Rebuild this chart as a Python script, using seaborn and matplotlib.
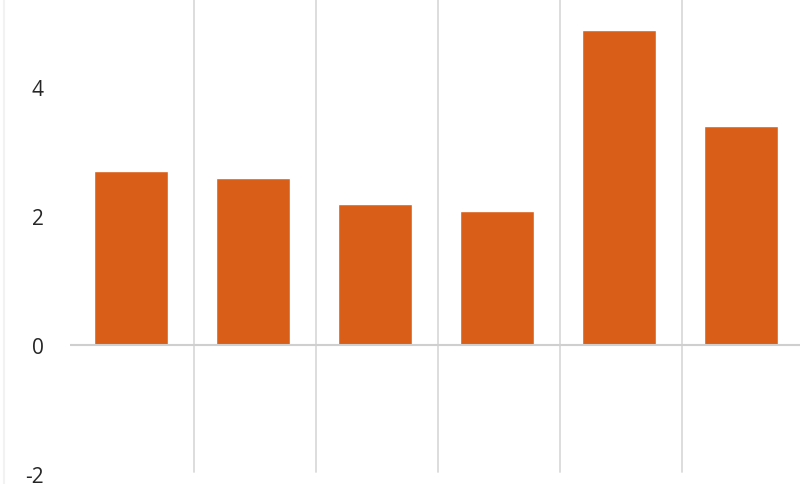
import matplotlib
matplotlib.use("Agg")
import matplotlib.pyplot as plt
import seaborn as sns

# values (category names are not shown in the crop)
categories = ["c1", "c2", "c3", "c4", "c5", "c6"]
values = [2.70, 2.59, 2.19, 2.08, 4.88, 3.40]
y_ticks = [-2, 0, 2, 4]

sns.set_theme(style="white")
plt.rcParams['font.family'] = ['Open Sans', 'DejaVu Sans']

fig = plt.figure(figsize=(8, 4.85), dpi=100)
ax = fig.add_axes([0.0875, 0, 0.915, 1])

sns.barplot(x=categories, y=values, color="#D95F18", saturation=1, width=0.6, ax=ax)

ax.set_xlim(-0.5, len(categories) - 0.5)
ax.set_ylim(-2.155, 5.364)

# category separators
for i in range(len(categories) - 1):
    ax.axvline(i + 0.52, ymin=0.025, ymax=1, color="#DADADA", lw=1.3, zorder=0)
ax.axhline(0, color="#CFCFCF", lw=1.5, zorder=3)

ax.set_yticks(y_ticks)
ax.set_yticklabels([str(t) for t in y_ticks])
ax.tick_params(axis="y", length=0, pad=19, labelsize=15, labelcolor="#262626")
ax.set_xticks([])
ax.set_xlabel("")
ax.set_ylabel("")
for s in ax.spines.values():
    s.set_visible(False)

# faint panel border on the far left
fig.add_artist(plt.Line2D([0.005, 0.005], [0, 1], color="#F2F2F2", lw=1.5))

fig.savefig("out.png", dpi=100)
